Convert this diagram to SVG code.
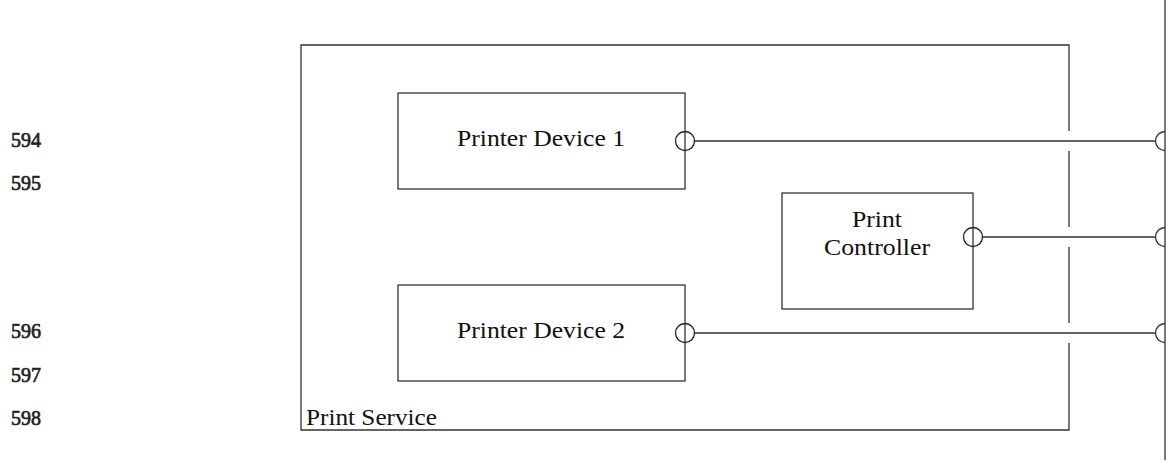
<svg xmlns="http://www.w3.org/2000/svg" width="1169" height="464" viewBox="0 0 1169 464">
  <style>
    .box { fill: none; stroke: #333; stroke-width: 1.3; }
    .ln { fill: none; stroke: #333; stroke-width: 1.3; }
    .port { fill: none; stroke: #222; stroke-width: 1.3; }
    .lbl { font-family: "Liberation Serif", "DejaVu Serif", serif; font-size: 23px; fill: #111; }
    .num { font-family: "Liberation Serif", "DejaVu Serif", serif; font-size: 21px; fill: #222; stroke: #222; stroke-width: 0.7; }
  </style>

  <!-- line numbers -->
  <g id="line-numbers">
    <text class="num" x="11" y="147" textLength="30" lengthAdjust="spacingAndGlyphs">594</text>
    <text class="num" x="11" y="190" textLength="30" lengthAdjust="spacingAndGlyphs">595</text>
    <text class="num" x="11" y="338" textLength="30" lengthAdjust="spacingAndGlyphs">596</text>
    <text class="num" x="11" y="382" textLength="30" lengthAdjust="spacingAndGlyphs">597</text>
    <text class="num" x="11" y="425" textLength="30" lengthAdjust="spacingAndGlyphs">598</text>
  </g>

  <!-- outer service boundary, right edge broken where links pass -->
  <g id="print-service">
    <path class="box" d="M1069,131 V45 H301 V430 H1069 V343 M1069,323 V247 M1069,227 V151"/>
    <text class="lbl" x="306" y="425" textLength="131" lengthAdjust="spacingAndGlyphs">Print Service</text>
  </g>

  <!-- external boundary line -->
  <g id="boundary">
    <line class="ln" x1="1165" y1="0" x2="1165" y2="460"/>
  </g>

  <!-- connectors -->
  <g id="connectors">
    <line class="ln" x1="695" y1="141" x2="1156" y2="141"/>
    <line class="ln" x1="983" y1="237" x2="1156" y2="237"/>
    <line class="ln" x1="695" y1="333" x2="1156" y2="333"/>
    <path class="ln" d="M1165,131.5 A9.5,9.5 0 0 0 1165,150.5"/>
    <path class="ln" d="M1165,227.5 A9.5,9.5 0 0 0 1165,246.5"/>
    <path class="ln" d="M1165,323.5 A9.5,9.5 0 0 0 1165,342.5"/>
  </g>

  <g id="printer-device-1">
    <rect class="box" x="398" y="93" width="287" height="96"/>
    <text class="lbl" x="457" y="146" textLength="168" lengthAdjust="spacingAndGlyphs">Printer Device 1</text>
    <circle class="port" cx="685" cy="141" r="9.5"/>
  </g>

  <g id="print-controller">
    <rect class="box" x="782" y="193" width="191" height="116"/>
    <text class="lbl" x="852" y="227" textLength="50" lengthAdjust="spacingAndGlyphs">Print</text>
    <text class="lbl" x="824" y="255" textLength="106" lengthAdjust="spacingAndGlyphs">Controller</text>
    <circle class="port" cx="973" cy="237" r="9.5"/>
  </g>

  <g id="printer-device-2">
    <rect class="box" x="398" y="285" width="287" height="96"/>
    <text class="lbl" x="457" y="338" textLength="168" lengthAdjust="spacingAndGlyphs">Printer Device 2</text>
    <circle class="port" cx="685" cy="333" r="9.5"/>
  </g>
</svg>
